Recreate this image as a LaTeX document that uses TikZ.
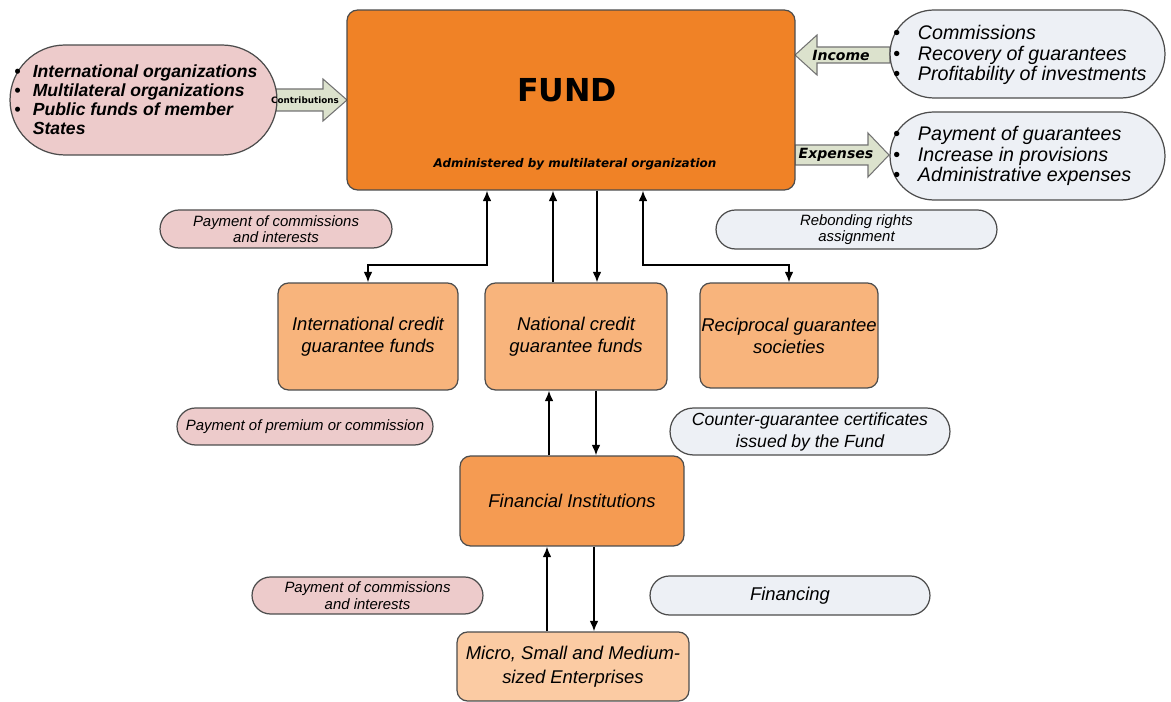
\documentclass[tikz,border=0pt]{standalone}
\usepackage{fontspec}
\setmainfont{Liberation Sans}
\newfontfamily\dvs{DejaVu Sans}
\usetikzlibrary{shapes.misc,arrows.meta,calc}
\definecolor{fundc}{HTML}{F08226}
\definecolor{midc}{HTML}{F8B47C}
\definecolor{finc}{HTML}{F59B52}
\definecolor{smec}{HTML}{FBCBA3}
\definecolor{pinkc}{HTML}{EDCBCB}
\definecolor{bluec}{HTML}{EDF0F5}
\definecolor{arrc}{HTML}{DCE2CD}
\begin{document}
\begin{tikzpicture}[x=0.02cm,y=-0.02cm,
  box/.style={draw=black!70,line width=0.7pt,rounded corners=6pt,inner sep=0pt,align=center,
    font=\fontsize{10.5}{12.5}\selectfont\itshape},
  pill/.style={rounded rectangle,draw=black!70,line width=0.7pt,inner sep=0pt,align=center},
  pinkpill/.style={pill,fill=pinkc},
  bluepill/.style={pill,fill=bluec},
  small/.style={font=\fontsize{8.5}{9.3}\selectfont\itshape},
  mid/.style={font=\fontsize{10}{12.5}\selectfont\itshape},
  listtext/.style={inner sep=0pt,align=left,anchor=west},
  arr/.style={line width=1pt,-{Latex[length=6pt,width=5pt]}},
  arrr/.style={line width=1pt,{Latex[length=6pt,width=5pt]}-{Latex[length=6pt,width=5pt]}},
  blk/.style={draw=black!55,line width=0.6pt,fill=arrc},
  blklabel/.style={font=\dvs\bfseries\itshape\fontsize{8}{8}\selectfont,inner sep=0pt}
]
\useasboundingbox (0,0) rectangle (1171,702);

% block arrows
\draw[blk] (276,89) -- (323,89) -- (323,79) -- (347,100) -- (323,121) -- (323,111) -- (276,111) -- cycle;
\draw[blk] (890,47) -- (817,47) -- (817,35) -- (795,55) -- (817,75) -- (817,63) -- (890,63) -- cycle;
\draw[blk] (795,145) -- (868,145) -- (868,133) -- (889,155) -- (868,177) -- (868,165) -- (795,165) -- cycle;

% main fund box
\node[box,minimum width=8.96cm,minimum height=3.6cm,fill=fundc] (fund) at (571,100) {};
\node[font=\dvs\bfseries\fontsize{18}{18}\selectfont,inner sep=0pt] (fundt) at (567,90) {FUND};
\node[font=\dvs\bfseries\itshape\fontsize{6.8}{7}\selectfont,inner sep=0pt] (adm) at (575,164) {Administered by multilateral organization};

% left source pill
\node[pinkpill,minimum width=5.34cm,minimum height=2.2cm] (src) at (143.5,100) {};
\node[listtext,font=\fontsize{10}{10.8}\selectfont\bfseries\itshape] (srct) at (14,102)
  {\begin{tabular}{@{}l@{\hspace{7pt}}l@{}}
   \textbullet & International organizations\\
   \textbullet & Multilateral organizations\\
   \textbullet & Public funds of member\\
               & States
   \end{tabular}};

% right pills
\node[bluepill,minimum width=5.5cm,minimum height=1.76cm] (inc) at (1027.5,54) {};
\node[listtext,font=\fontsize{11.2}{11.7}\selectfont\itshape] (inct) at (893,55)
  {\makebox[14pt][l]{\upshape\textbullet}Commissions\\
   \makebox[14pt][l]{\upshape\textbullet}Recovery of guarantees\\
   \makebox[14pt][l]{\upshape\textbullet}Profitability of investments};
\node[bluepill,minimum width=5.5cm,minimum height=1.76cm] (exp) at (1027.5,156) {};
\node[listtext,font=\fontsize{11.2}{11.7}\selectfont\itshape] (expt) at (893,156)
  {\makebox[14pt][l]{\upshape\textbullet}Payment of guarantees\\
   \makebox[14pt][l]{\upshape\textbullet}Increase in provisions\\
   \makebox[14pt][l]{\upshape\textbullet}Administrative expenses};

% block arrow labels
\node[font=\dvs\bfseries\fontsize{5}{5}\selectfont,inner sep=0pt] (contl) at (305,100) {Contributions};
\node[blklabel] (incl) at (841,55) {Income};
\node[blklabel] (expl) at (836,155) {Expenses};

% second level
\node[pinkpill,small,minimum width=4.64cm,minimum height=0.76cm] (p1) at (276,229)
  {Payment of commissions\\and interests};
\node[bluepill,small,minimum width=5.62cm,minimum height=0.78cm] (b1) at (856.5,229.5)
  {Rebonding rights\\assignment};

\node[box,fill=midc,minimum width=3.6cm,minimum height=2.14cm] (intl) at (368,336.5)
  {International credit\\guarantee funds};
\node[box,fill=midc,minimum width=3.64cm,minimum height=2.14cm] (nat) at (576,336.5)
  {National credit\\guarantee funds};
\node[box,fill=midc,minimum width=3.56cm,minimum height=2.1cm] (recip) at (789,335.5)
  {Reciprocal guarantee\\societies};

\node[pinkpill,small,minimum width=5.12cm,minimum height=0.74cm] (p2) at (305,426.5)
  {Payment of premium or commission};
\node[bluepill,mid,minimum width=5.6cm,minimum height=0.94cm] (b2) at (810,431.5)
  {Counter-guarantee certificates\\issued by the Fund};

\node[box,fill=finc,minimum width=4.48cm,minimum height=1.8cm] (fin) at (572,501)
  {Financial Institutions};

\node[pinkpill,small,minimum width=4.62cm,minimum height=0.74cm] (p3) at (367.5,595.5)
  {Payment of commissions\\and interests};
\node[bluepill,font=\fontsize{10.5}{12}\selectfont\itshape,minimum width=5.6cm,minimum height=0.78cm] (b3) at (790,595.5)
  {Financing};

\node[box,fill=smec,font=\fontsize{10.5}{13.6}\selectfont\itshape,minimum width=4.64cm,minimum height=1.38cm] (sme) at (573,666.5)
  {Micro, Small and Medium-\\sized Enterprises};

% connectors
\coordinate (c1) at (487,265);
\coordinate (c2) at (643,265);
\coordinate (xa) at (553,0);
\coordinate (xb) at (597,0);
\coordinate (xc) at (549,0);
\coordinate (xd) at (596,0);
\coordinate (xe) at (547,0);
\coordinate (xf) at (594,0);

\draw[arrr] (intl.north) |- (c1) -- (c1 |- fund.south);
\draw[arr] (nat.north -| xa) -- (fund.south -| xa);
\draw[arr] (fund.south -| xb) -- (nat.north -| xb);
\draw[arrr] (c2 |- fund.south) -- (c2) -| (recip.north);

\draw[arr] (fin.north -| xc) -- (nat.south -| xc);
\draw[arr] (nat.south -| xd) -- (fin.north -| xd);

\draw[arr] (sme.north -| xe) -- (fin.south -| xe);
\draw[arr] (fin.south -| xf) -- (sme.north -| xf);
\end{tikzpicture}
\end{document}
